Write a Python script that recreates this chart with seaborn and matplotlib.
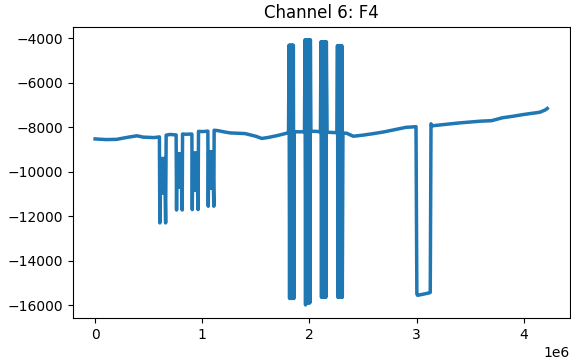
import pandas as pd
import seaborn as sns
import matplotlib.pyplot as plt

# baseline before first bursts
base1_x = [0, 100000, 200000, 300000, 390000, 450000, 550000, 598000]
base1_y = [-8520, -8550, -8540, -8450, -8380, -8440, -8460, -8430]

# small bursts (sample index, value)
burst1_x = [600000, 604000, 608000, 613000, 618000, 623000, 628000, 633000, 638000, 643000, 648000, 653000, 658000, 663000]
burst1_y = [-8430, -12300, -9400, -10950, -9400, -10950, -9400, -10950, -9400, -10950, -9400, -10950, -12300, -8350]

gap1_x = [700000, 754000]
gap1_y = [-8320, -8340]

burst2_x = [756000, 760000, 764000, 769000, 774000, 779000, 784000, 789000, 794000, 799000, 804000, 809000, 813000, 816000]
burst2_y = [-8340, -11720, -9200, -10700, -9200, -10700, -9200, -10700, -9200, -10700, -9200, -10700, -11720, -8300]

gap2_x = [850000, 901000]
gap2_y = [-8310, -8300]

burst3_x = [903000, 907000, 911000, 916000, 921000, 926000, 931000, 936000, 941000, 946000, 951000, 956000, 961000, 965000]
burst3_y = [-8300, -11700, -9160, -10830, -9160, -10830, -9160, -10830, -9160, -10830, -9160, -10830, -11700, -8180]

gap3_x = [1000000, 1050000]
gap3_y = [-8190, -8170]

burst4_x = [1052000, 1056000, 1060000, 1065000, 1070000, 1075000, 1080000, 1085000, 1090000, 1095000, 1100000, 1104000, 1108000, 1111000]
burst4_y = [-8170, -11550, -9100, -10730, -9100, -10730, -9100, -10730, -9100, -10730, -9100, -10730, -11550, -8130]

base2_x = [1150000, 1200000, 1260000, 1400000, 1500000, 1556000, 1620000, 1700000, 1800000]
base2_y = [-8150, -8200, -8250, -8280, -8400, -8500, -8450, -8370, -8250]

# large artefact bars
bar1_x = [1805000, 1810000, 1815000, 1820000, 1825000, 1830000, 1835000, 1840000, 1845000, 1850000, 1855000, 1858000]
bar1_y = [-8250, -4300, -15700, -4300, -15700, -4300, -15700, -4300, -15700, -4300, -15700, -8200]

gap4_x = [1900000, 1952000]
gap4_y = [-8200, -8200]

bar2_x = [1954000, 1959000, 1964000, 1969000, 1974000, 1979000, 1984000, 1989000, 1994000, 1999000, 2004000, 2009000, 2014000]
bar2_y = [-8200, -4060, -15990, -4060, -15900, -4060, -15900, -4060, -15900, -4060, -15900, -4060, -8180]

gap5_x = [2060000, 2101000]
gap5_y = [-8180, -8200]

bar3_x = [2103000, 2108000, 2113000, 2118000, 2123000, 2128000, 2133000, 2138000, 2143000, 2148000, 2153000, 2158000, 2165000]
bar3_y = [-8200, -4150, -15650, -4150, -15650, -4150, -15650, -4150, -15650, -4150, -15650, -4150, -8220]

gap6_x = [2210000, 2255000]
gap6_y = [-8230, -8240]

bar4_x = [2257000, 2262000, 2267000, 2272000, 2277000, 2282000, 2287000, 2292000, 2297000, 2302000, 2307000, 2313000]
bar4_y = [-8240, -4320, -15650, -4320, -15650, -4320, -15650, -4320, -15650, -4320, -15650, -8250]

base3_x = [2350000, 2410000, 2500000, 2600000, 2700000, 2800000, 2900000, 2995000]
base3_y = [-8270, -8400, -8350, -8280, -8200, -8100, -8000, -7970]

# long drop around 3e6
dip_x = [3003000, 3010000, 3060000, 3110000, 3128000, 3135000, 3145000]
dip_y = [-15500, -15560, -15510, -15460, -15430, -7840, -7930]

base4_x = [3200000, 3300000, 3400000, 3500000, 3600000, 3700000, 3800000, 3900000, 4000000, 4100000, 4150000, 4200000, 4220000]
base4_y = [-7900, -7850, -7800, -7760, -7720, -7700, -7570, -7500, -7420, -7350, -7320, -7220, -7150]

segments_x = [base1_x, burst1_x, gap1_x, burst2_x, gap2_x, burst3_x, gap3_x, burst4_x, base2_x,
              bar1_x, gap4_x, bar2_x, gap5_x, bar3_x, gap6_x, bar4_x, base3_x, dip_x, base4_x]
segments_y = [base1_y, burst1_y, gap1_y, burst2_y, gap2_y, burst3_y, gap3_y, burst4_y, base2_y,
              bar1_y, gap4_y, bar2_y, gap5_y, bar3_y, gap6_y, bar4_y, base3_y, dip_y, base4_y]

df = pd.DataFrame({
    'sample': [v for s in segments_x for v in s],
    'value': [v for s in segments_y for v in s],
})

fig = plt.figure(figsize=(5.71, 3.64), dpi=100)
ax = fig.add_axes([0.127, 0.126, 0.871, 0.801])
sns.lineplot(data=df, x='sample', y='value', sort=False, estimator=None,
             color='#1f77b4', linewidth=2.5, ax=ax)
ax.set_title('Channel 6: F4')
ax.set_xlabel('')
ax.set_ylabel('')
fig.savefig('out.png', dpi=100)
